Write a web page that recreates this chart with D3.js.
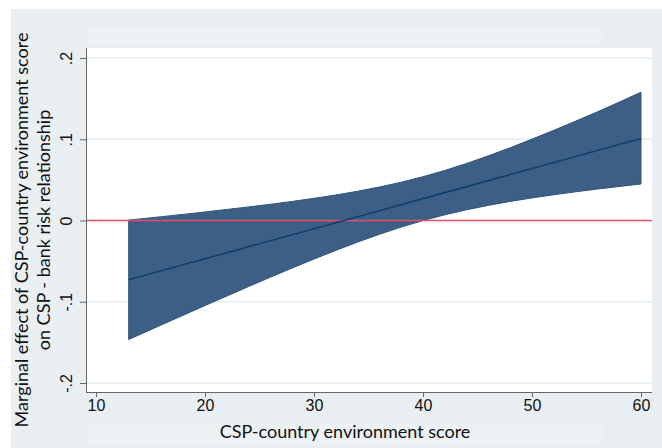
<!DOCTYPE html>
<html>
<head>
<meta charset="utf-8">
<script src="https://cdn.jsdelivr.net/npm/d3@7"></script>
<style>
  html, body { margin: 0; padding: 0; background: #ffffff; }
  svg { display: block; }
</style>
</head>
<body>
<svg id="chart" width="662" height="448"></svg>
<script>
// Moderator values (CSP-country environment score) at which the effect is evaluated
const envScore = [13, 16, 20, 24, 28, 32, 36, 40, 44, 48, 52, 56, 60];
// Marginal effect estimate
const effect = [-0.073, -0.0619, -0.0471, -0.0323, -0.0175, -0.0027, 0.0121, 0.0269, 0.0417, 0.0566, 0.0714, 0.0862, 0.101];
// Upper and lower confidence bounds
const upperCI = [0.0005, 0.0047, 0.0105, 0.0167, 0.0235, 0.0314, 0.0412, 0.0539, 0.0702, 0.0896, 0.1110, 0.1337, 0.158];
const lowerCI = [-0.1465, -0.1285, -0.1047, -0.0813, -0.0585, -0.0368, -0.0170, -0.0001, 0.0132, 0.0235, 0.0317, 0.0387, 0.045];

// Axis ticks and labels
const xTicks = [10, 20, 30, 40, 50, 60];
const yTicks = [0.2, 0.1, 0, -0.1, -0.2];
const yTickLabels = [".2", ".1", "0", "-.1", "-.2"];
const xTitle = "CSP-country environment score";
const yTitle = ["Marginal effect of CSP-country environment score", "on CSP - bank risk relationship"];

const svg = d3.select("#chart");

// Graph region and plot region
const plot = { left: 86, right: 652, top: 48, bottom: 392 };

svg.append("rect").attr("x", 11).attr("y", 9).attr("width", 651).attr("height", 439).attr("fill", "#e8eef1");
// lighter panels behind the title areas
svg.append("rect").attr("x", 88).attr("y", 28).attr("width", 514).attr("height", 18).attr("fill", "#ecf1f3");
svg.append("rect").attr("x", 88).attr("y", 423).attr("width", 514).attr("height", 22).attr("fill", "#ecf1f3");
svg.append("rect").attr("x", 11).attr("y", 9).attr("width", 49).attr("height", 439).attr("fill", "#eaf0f2");

svg.append("rect")
  .attr("x", plot.left).attr("y", plot.top)
  .attr("width", plot.right - plot.left).attr("height", plot.bottom - plot.top)
  .attr("fill", "#ffffff");

const x = d3.scaleLinear().domain([10, 60]).range([96, 641]);
const y = d3.scaleLinear().domain([-0.2, 0.2]).range([383, 58]);

// Horizontal gridlines
svg.append("g").selectAll("line")
  .data(yTicks.filter(t => t !== 0))
  .join("line")
  .attr("x1", plot.left).attr("x2", plot.right)
  .attr("y1", d => y(d)).attr("y2", d => y(d))
  .attr("stroke", "#e7eef1").attr("stroke-width", 1.5);

// Confidence band
const rows = envScore.map((s, i) => ({ s, e: effect[i], hi: upperCI[i], lo: lowerCI[i] }));

svg.append("path")
  .datum(rows)
  .attr("d", d3.area().x(d => x(d.s)).y0(d => y(d.lo)).y1(d => y(d.hi)).curve(d3.curveMonotoneX))
  .attr("fill", "#3e5f85")
  .attr("stroke", "#2f547c").attr("stroke-width", 1);

// Reference line at zero
svg.append("line")
  .attr("x1", plot.left).attr("x2", plot.right)
  .attr("y1", y(0)).attr("y2", y(0))
  .attr("stroke", "#e0506a").attr("stroke-width", 1.6);

// Estimated marginal effect
svg.append("path")
  .datum(rows)
  .attr("d", d3.line().x(d => x(d.s)).y(d => y(d.e)))
  .attr("fill", "none")
  .attr("stroke", "#0f3f6e").attr("stroke-width", 1.6);

// X axis
const xAxis = d3.axisBottom(x).tickValues(xTicks).tickFormat(d3.format("d")).tickSize(5).tickPadding(3);
const gx = svg.append("g").attr("transform", `translate(0,${plot.bottom})`).call(xAxis);
gx.select(".domain").attr("d", `M${plot.left},0.5H${plot.right}`).attr("stroke", "#666");
gx.selectAll(".tick line").attr("stroke", "#666");
gx.selectAll(".tick text")
  .attr("font-family", "Liberation Sans, Arial, sans-serif")
  .attr("font-size", 16).attr("fill", "#111");

// Y axis with rotated labels
const yAxis = d3.axisLeft(y).tickValues(yTicks).tickFormat((d, i) => yTickLabels[i]).tickSize(6).tickPadding(0);
const gy = svg.append("g").attr("transform", `translate(${plot.left},0)`).call(yAxis);
gy.select(".domain").attr("d", `M0.5,${plot.top}V${plot.bottom}`).attr("stroke", "#666");
gy.selectAll(".tick line").attr("stroke", "#666");
gy.selectAll(".tick text")
  .attr("x", null).attr("dy", null)
  .attr("text-anchor", "middle")
  .attr("transform", "translate(-14,0) rotate(-90)")
  .attr("font-family", "Liberation Sans, Arial, sans-serif")
  .attr("font-size", 16).attr("fill", "#111");

// Axis titles
svg.append("text")
  .attr("x", 345).attr("y", 438)
  .attr("text-anchor", "middle")
  .attr("font-family", "Lato, 'Open Sans', sans-serif")
  .attr("font-size", 18).attr("fill", "#111")
  .text(xTitle);

const yt = svg.append("text")
  .attr("transform", "translate(28,230) rotate(-90)")
  .attr("text-anchor", "middle")
  .attr("font-family", "Lato, 'Open Sans', sans-serif")
  .attr("font-size", 18).attr("fill", "#111");
yt.selectAll("tspan").data(yTitle).join("tspan")
  .attr("x", 0).attr("dy", (d, i) => i === 0 ? 0 : 22)
  .text(d => d);
</script>
</body>
</html>
